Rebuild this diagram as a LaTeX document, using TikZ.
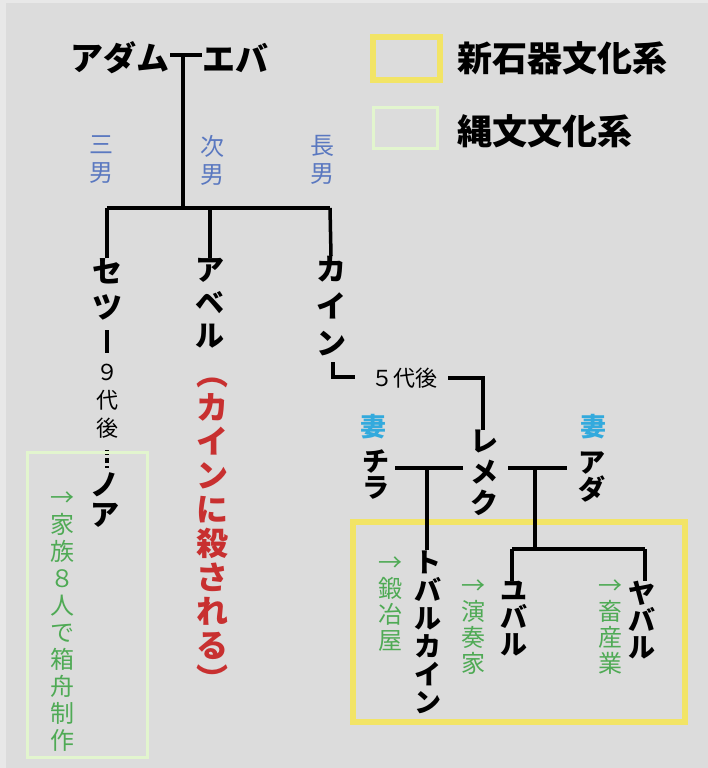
\documentclass[tikz,border=0pt]{standalone}
\usepackage{fontspec}
\setmainfont{Noto Sans CJK JP}
\newcommand{\JFs}[2]{\fontsize{#1}{#2}\selectfont\lineskiplimit=-100pt\lineskip=0pt\relax}
\definecolor{bgc}{HTML}{DCDCDC}
\definecolor{yel}{HTML}{F2E466}
\definecolor{lgr}{HTML}{E2F5CE}
\definecolor{grn}{HTML}{4FAA55}
\definecolor{blu}{HTML}{5A78C0}
\definecolor{cyn}{HTML}{33AADD}
\definecolor{rd}{HTML}{C83030}
\tikzset{
  ln/.style={line width=3.5pt, black},
  nm/.style={inner sep=0pt, align=center, font=\bfseries\JFs{30}{34}},
  note/.style={inner sep=0pt, align=center, text=grn, font=\JFs{24}{27}},
  rank/.style={inner sep=0pt, align=center, text=blu, font=\JFs{24}{28}},
  wife/.style={inner sep=0pt, text=cyn, font=\bfseries\JFs{26}{26}},
  gen/.style={inner sep=0pt, align=center, font=\JFs{22}{28}},
}
\begin{document}
\begin{tikzpicture}[x=1pt,y=-1pt]
\useasboundingbox (0,0) rectangle (708,768);
\fill[color=black!9] (0,0) rectangle (708,768);
\fill[bgc] (6,3) rectangle (708,768);

% legend
\draw[yel, line width=6pt] (373,37) rectangle (440,80);
\node[inner sep=0pt, anchor=west, font=\bfseries\JFs{35}{35}] (leg1) at (457,58) {新石器文化系};
\draw[lgr, line width=3pt] (373,107) rectangle (437,148);
\node[inner sep=0pt, anchor=west, font=\bfseries\JFs{35}{35}] (leg2) at (457,131) {縄文文化系};

% Adam & Eve
\node[nm, anchor=east, font=\bfseries\JFs{33}{33}] (adam) at (170,58) {アダム};
\node[nm, anchor=west, font=\bfseries\JFs{33}{33}] (eva) at (202,58) {エバ};
\coordinate (ae) at (183,55);
\coordinate (bar) at (183,208);
\coordinate (bl) at (107,208);
\coordinate (bm) at (210,208);
\coordinate (br) at (330,208);
\draw[ln] (adam.east |- ae) -- (eva.west |- ae);
\draw[ln] (ae) -- (bar);
\draw[ln] (bl) -- (br);

% rank labels
\node[rank] (r3) at (101,160) {三\\男};
\node[rank] (r2) at (212,160) {次\\男};
\node[rank] (r1) at (322,160) {長\\男};

% sons
\node[nm, font=\bfseries\JFs{30}{36}] (seth) at (107,289) {セ\\ツ};
\node[nm, font=\bfseries\JFs{29}{33}] (abel) at (210,303) {ア\\ベ\\ル};
\node[nm, font=\bfseries\JFs{30}{37}] (cain) at (331,306) {カ\\イ\\ン};
\draw[ln] (bl) -- (seth.north);
\draw[ln] (bm) -- (abel.north);
\draw[ln] (br) -- (cain.north);

\node[inner sep=0pt, align=center, text=rd, font=\bfseries\JFs{32}{34}] (killed) at (212,535)
  {︵\\カ\\イ\\ン\\に\\殺\\さ\\れ\\る\\︶};

% Seth line
\node[gen] (g9) at (107,401) {９\\代\\後};
\coordinate (s1) at (107,330);
\coordinate (s2) at (107,353);
\draw[ln] (s1) -- (s2);
\node[nm, font=\bfseries\JFs{29}{30}] (noah) at (105,500) {ノ\\ア};
\coordinate (d1) at (107,450);
\coordinate (d2) at (107,468);
\draw[ln, dash pattern=on 5pt off 3pt] (d1) -- (d2);

\draw[lgr, line width=3pt] (27,452) rectangle (147,757);
\node[note] (noahnote) at (62,622) {→\\家\\族\\８\\人\\で\\箱\\舟\\制\\作};

% Cain line
\node[gen, anchor=center] (g5) at (404,378) {５代後};
\coordinate (c1) at (333,362);
\coordinate (c2) at (333,377);
\coordinate (c3) at (355,377);
\draw[ln] (c1) -- (c2) -- (c3);
\coordinate (c4) at (448,378);
\coordinate (c5) at (483,378);
\node[nm, font=\bfseries\JFs{28}{31}] (lamech) at (484,473) {レ\\メ\\ク};
\draw[ln] (c4) -- (c5) -- (lamech.north -| c5);

\node[wife] (w1) at (373,427) {妻};
\node[wife] (w2) at (593,427) {妻};
\node[nm, font=\bfseries\JFs{27}{26}] (zillah) at (376,474) {チ\\ラ};
\node[nm, font=\bfseries\JFs{27}{27}] (adah) at (592,477) {ア\\ダ};

\coordinate (m1) at (395,468);
\coordinate (m2) at (463,468);
\coordinate (m3) at (508,468);
\coordinate (m4) at (567,468);
\draw[ln] (m1) -- (m2);
\draw[ln] (m3) -- (m4);

% yellow box
\draw[yel, line width=6pt] (353,522) rectangle (685,722);

\node[nm, font=\bfseries\JFs{27}{28}] (tubal) at (428,632) {ト\\バ\\ル\\カ\\イ\\ン};
\coordinate (t0) at (427,468);
\draw[ln] (t0) -- (tubal.north -| t0);
\node[note, font=\JFs{24}{26}] (tubalnote) at (390,604) {→\\鍛\\冶\\屋};

\coordinate (j0) at (535,468);
\coordinate (j1) at (535,549);
\coordinate (j2) at (512,549);
\coordinate (j3) at (645,549);
\draw[ln] (j0) -- (j1);
\draw[ln] (j2) -- (j3);
\node[nm, font=\bfseries\JFs{27}{27}] (jubal) at (514,619) {ユ\\バ\\ル};
\node[nm, font=\bfseries\JFs{27}{27}] (jabal) at (642,620) {ヤ\\バ\\ル};
\draw[ln] (j2) -- (jubal.north -| j2);
\draw[ln] (j3) -- (jabal.north -| j3);
\node[note, font=\JFs{24}{26}] (jubalnote) at (473,627) {→\\演\\奏\\家};
\node[note, font=\JFs{24}{26}] (jabalnote) at (610,627) {→\\畜\\産\\業};
\end{tikzpicture}
\end{document}
